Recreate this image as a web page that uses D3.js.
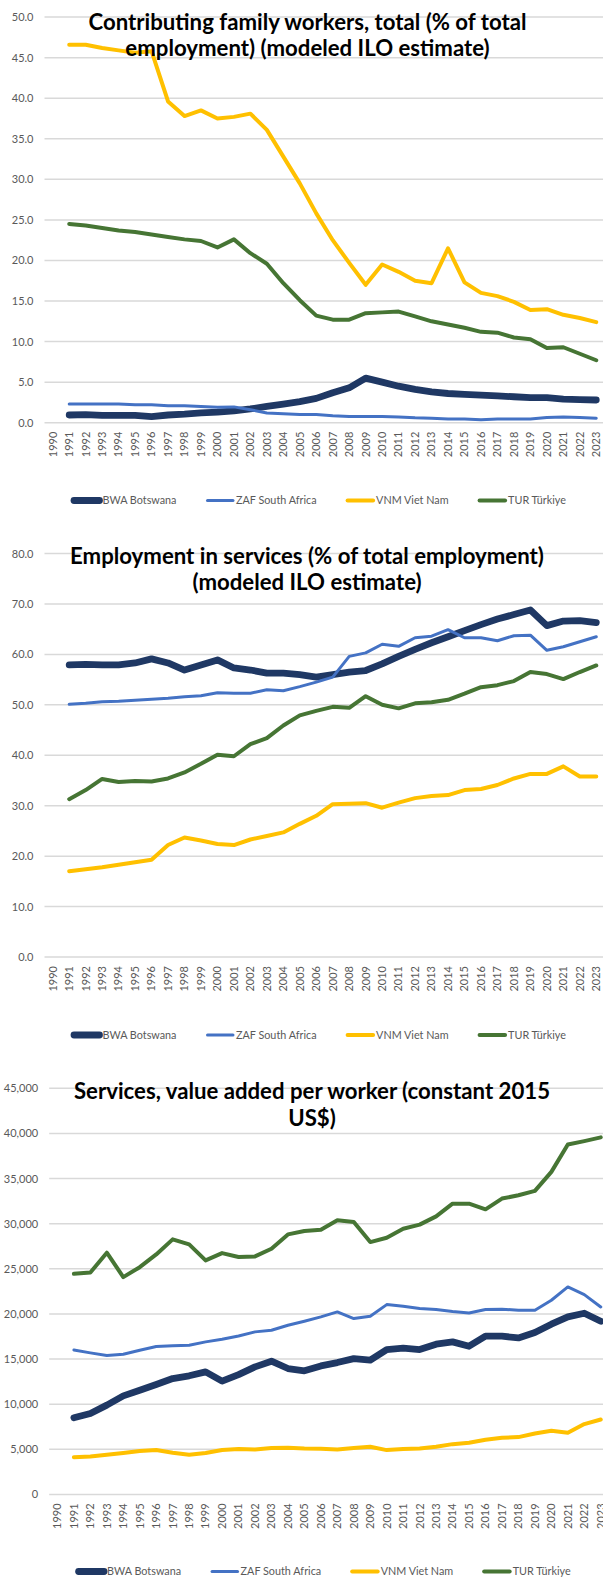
<!DOCTYPE html>
<html>
<head>
<meta charset="utf-8">
<script src="https://cdn.jsdelivr.net/npm/d3@7"></script>
<style>
  html, body { margin: 0; padding: 0; background: #ffffff; }
  svg { display: block; }
  text { font-family: Lato, "Open Sans", "Liberation Sans", sans-serif; }
</style>
</head>
<body>
<svg id="chart" width="603" height="1578"></svg>
<script>
// ---- categories ----
const years = [1990, 1991, 1992, 1993, 1994, 1995, 1996, 1997, 1998, 1999,
  2000, 2001, 2002, 2003, 2004, 2005, 2006, 2007, 2008, 2009,
  2010, 2011, 2012, 2013, 2014, 2015, 2016, 2017, 2018, 2019,
  2020, 2021, 2022, 2023];

const seriesNames = ["BWA Botswana", "ZAF South Africa", "VNM Viet Nam", "TUR Türkiye"];

// ---- Contributing family workers, total (% of total employment) ----
const familyBWA = [null, 0.95, 1.0, 0.9, 0.9, 0.9, 0.75, 0.95, 1.05, 1.2,
  1.3, 1.45, 1.7, 2.0, 2.3, 2.6, 3.0, 3.7, 4.3, 5.5,
  5.0, 4.5, 4.1, 3.8, 3.6, 3.5, 3.4, 3.3, 3.2, 3.1,
  3.1, 2.9, 2.85, 2.8];
const familyZAF = [null, 2.3, 2.3, 2.3, 2.3, 2.2, 2.2, 2.1, 2.1, 2.0,
  1.9, 1.95, 1.6, 1.2, 1.1, 1.0, 1.0, 0.85, 0.75, 0.75,
  0.75, 0.7, 0.6, 0.55, 0.45, 0.45, 0.35, 0.45, 0.45, 0.45,
  0.65, 0.7, 0.65, 0.55];
const familyVNM = [null, 46.6, 46.6, 46.2, 45.9, 45.6, 45.8, 39.6, 37.8, 38.5,
  37.5, 37.7, 38.1, 36.1, 32.8, 29.5, 25.8, 22.5, 19.7, 17.0,
  19.5, 18.6, 17.5, 17.2, 21.5, 17.3, 16.0, 15.6, 14.9, 13.9,
  14.0, 13.3, 12.9, 12.4];
const familyTUR = [null, 24.5, 24.3, 24.0, 23.7, 23.5, 23.2, 22.9, 22.6, 22.4,
  21.6, 22.6, 20.9, 19.6, 17.2, 15.1, 13.2, 12.7, 12.7, 13.5,
  13.6, 13.7, 13.1, 12.5, 12.1, 11.7, 11.2, 11.1, 10.5, 10.3,
  9.2, 9.3, 8.5, 7.7];
const familyTicks = [0, 5, 10, 15, 20, 25, 30, 35, 40, 45, 50];

// ---- Employment in services (% of total employment) ----
const servicesBWA = [null, 57.9, 58.0, 57.9, 57.9, 58.3, 59.1, 58.3, 56.9, 57.9,
  58.9, 57.3, 56.9, 56.3, 56.3, 56.0, 55.5, 56.0, 56.5, 56.8,
  58.1, 59.6, 61.0, 62.3, 63.5, 64.7, 65.9, 67.0, 67.9, 68.8,
  65.7, 66.6, 66.7, 66.3];
const servicesZAF = [null, 50.1, 50.3, 50.6, 50.7, 50.9, 51.1, 51.3, 51.6, 51.8,
  52.4, 52.3, 52.3, 53.0, 52.8, 53.6, 54.5, 55.5, 59.6, 60.3,
  62.0, 61.6, 63.3, 63.6, 64.9, 63.3, 63.3, 62.7, 63.7, 63.8,
  60.8, 61.5, 62.5, 63.5];
const servicesVNM = [null, 17.0, 17.4, 17.8, 18.3, 18.8, 19.3, 22.2, 23.7, 23.1,
  22.4, 22.2, 23.3, 24.0, 24.7, 26.4, 28.0, 30.3, 30.4, 30.5,
  29.6, 30.6, 31.5, 31.9, 32.1, 33.1, 33.3, 34.1, 35.4, 36.3,
  36.3, 37.8, 35.8, 35.8];
const servicesTUR = [null, 31.3, 33.1, 35.3, 34.7, 34.9, 34.8, 35.4, 36.6, 38.3,
  40.1, 39.8, 42.2, 43.4, 45.9, 47.9, 48.8, 49.6, 49.4, 51.7,
  50.0, 49.3, 50.3, 50.5, 51.0, 52.2, 53.5, 53.9, 54.7, 56.5,
  56.1, 55.1, 56.5, 57.8];
const servicesTicks = [0, 10, 20, 30, 40, 50, 60, 70, 80];

// ---- Services, value added per worker (constant 2015 US$) ----
const valueBWA = [null, 8500, 8970, 9890, 10920, 11550, 12180, 12840, 13140, 13580,
  12550, 13280, 14130, 14760, 13950, 13690, 14240, 14610, 15050, 14870,
  16050, 16200, 16050, 16640, 16900, 16420, 17530, 17530, 17340, 17930,
  18860, 19670, 20070, 19190];
const valueZAF = [null, 16010, 15680, 15390, 15530, 15980, 16380, 16460, 16530, 16900,
  17200, 17560, 18010, 18190, 18750, 19190, 19670, 20220, 19480, 19740,
  21030, 20850, 20590, 20480, 20260, 20110, 20480, 20520, 20410, 20410,
  21510, 22990, 22140, 20770];
const valueVNM = [null, 4130, 4210, 4390, 4580, 4800, 4910, 4610, 4390, 4580,
  4910, 5020, 4980, 5130, 5170, 5090, 5060, 4980, 5130, 5280,
  4910, 5020, 5090, 5280, 5570, 5720, 6050, 6270, 6350, 6750,
  7050, 6830, 7790, 8300];
const valueTUR = [null, 24450, 24590, 26780, 24080, 25180, 26590, 28260, 27700, 25930,
  26740, 26300, 26370, 27220, 28810, 29190, 29330, 30370, 30190, 27960,
  28440, 29440, 29890, 30810, 32220, 32220, 31590, 32780, 33150, 33630,
  35740, 38780, 39150, 39560];
const valueTicks = [0, 5000, 10000, 15000, 20000, 25000, 30000, 35000, 40000, 45000];

// ---- styling per series ----
const seriesStyle = [
  { color: "#1f3864", width: 6.8 },
  { color: "#4472c4", width: 3 },
  { color: "#ffc000", width: 4 },
  { color: "#467534", width: 4 }
];

// ---- panel layout ----
const panels = [
  {
    title: ["Contributing family workers, total (% of total", "employment) (modeled ILO estimate)"],
    series: [familyBWA, familyZAF, familyVNM, familyTUR],
    ticks: familyTicks, fmt: d3.format(".1f"),
    left: 44.5, right: 604.5, yTop: 17.1, yBottom: 422.7,
    titleX: 307.5, titleY: 29.5, legendY: 500.5
  },
  {
    title: ["Employment in services (% of total employment)", "(modeled ILO estimate)"],
    series: [servicesBWA, servicesZAF, servicesVNM, servicesTUR],
    ticks: servicesTicks, fmt: d3.format(".1f"),
    left: 44.5, right: 604.5, yTop: 553.5, yBottom: 957,
    titleX: 307, titleY: 563.5, legendY: 1035
  },
  {
    title: ["Services, value added per worker (constant 2015", "US$)"],
    series: [valueBWA, valueZAF, valueVNM, valueTUR],
    ticks: valueTicks, fmt: d3.format(","),
    left: 49.2, right: 609, yTop: 1088.3, yBottom: 1494.4,
    titleX: 312, titleY: 1099, legendY: 1571.5
  }
];

const svg = d3.select("#chart");
const tickFont = "11px";

panels.forEach(p => {
  const g = svg.append("g");
  const yMax = d3.max(p.ticks);

  const x = d3.scaleBand().domain(years).range([p.left, p.right]).paddingInner(0).paddingOuter(0);
  const xc = yr => x(yr) + x.bandwidth() / 2;
  const y = d3.scaleLinear().domain([0, yMax]).range([p.yBottom, p.yTop]);

  // horizontal gridlines (the zero line doubles as the category axis)
  g.append("g").selectAll("line").data(p.ticks).join("line")
    .attr("x1", p.left).attr("x2", p.right)
    .attr("y1", d => y(d)).attr("y2", d => y(d))
    .attr("stroke", "#d9d9d9").attr("stroke-width", 1.5);

  // value axis labels
  const yAxis = d3.axisLeft(y).tickValues(p.ticks).tickFormat(p.fmt).tickSize(0).tickPadding(11);
  const ya = g.append("g").attr("transform", `translate(${p.left},0)`).call(yAxis);
  ya.select(".domain").remove();
  ya.selectAll("text").attr("fill", "#595959").style("font-size", tickFont)
    .style("font-family", "Lato, 'Open Sans', sans-serif");

  // category axis labels, rotated
  const xAxis = d3.axisBottom(x).tickSize(0).tickPadding(0);
  const xa = g.append("g").attr("transform", `translate(0,${p.yBottom})`).call(xAxis);
  xa.select(".domain").remove();
  xa.selectAll("text")
    .attr("fill", "#595959").style("font-size", tickFont)
    .style("font-family", "Lato, 'Open Sans', sans-serif")
    .attr("text-anchor", "end")
    .attr("transform", "rotate(-90)")
    .attr("x", -9).attr("y", 0).attr("dy", "0.35em");

  // lines
  const line = d3.line()
    .defined(d => d.v !== null)
    .x(d => xc(d.year))
    .y(d => y(d.v));

  p.series.forEach((vals, i) => {
    const pts = years.map((yr, k) => ({ year: yr, v: vals[k] }));
    g.append("path").datum(pts)
      .attr("d", line)
      .attr("fill", "none")
      .attr("stroke", seriesStyle[i].color)
      .attr("stroke-width", seriesStyle[i].width)
      .attr("stroke-linejoin", "round")
      .attr("stroke-linecap", "round");
  });

  // title
  const t = g.append("text")
    .attr("text-anchor", "middle")
    .attr("fill", "#000000")
    .style("font-size", "22.2px").style("font-weight", "700");
  p.title.forEach((ln, k) => {
    t.append("tspan").attr("x", p.titleX).attr("y", p.titleY + k * 26.5).text(ln);
  });

  // legend: short line swatch followed by its label, entries centred as a row
  const lg = g.append("g");
  const segLen = 25.5, textGap = 3, entryGap = 31;
  const items = seriesNames.map((name, i) => {
    const it = lg.append("g");
    it.append("line").attr("x1", 0).attr("x2", segLen).attr("y1", 0).attr("y2", 0)
      .attr("stroke", seriesStyle[i].color).attr("stroke-width", seriesStyle[i].width)
      .attr("stroke-linecap", "round");
    const tx = it.append("text").attr("x", segLen + textGap).attr("y", 0).attr("dy", "0.35em")
      .attr("fill", "#595959").style("font-size", "10.8px").text(name);
    return { it, w: segLen + textGap + tx.node().getComputedTextLength() };
  });
  const total = d3.sum(items, d => d.w) + entryGap * (items.length - 1);
  let cx = (p.left + p.right) / 2 - 4.5 - total / 2;
  items.forEach(d => {
    d.it.attr("transform", `translate(${cx},${p.legendY})`);
    cx += d.w + entryGap;
  });
});
</script>
</body>
</html>
